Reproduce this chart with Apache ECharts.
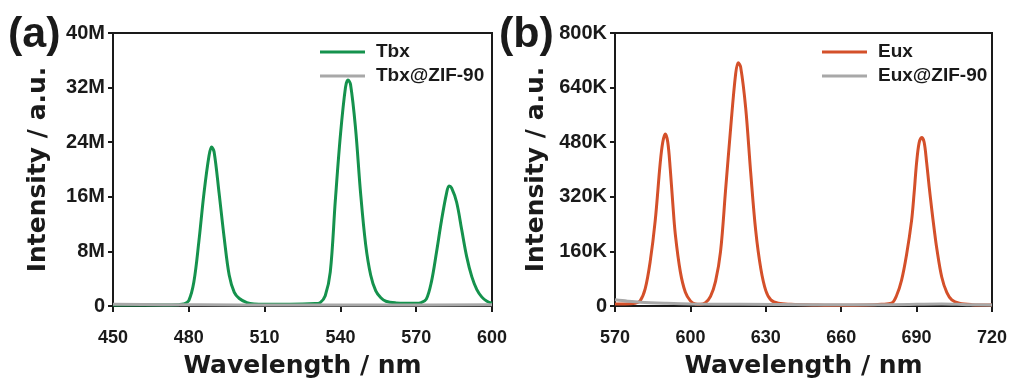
<!DOCTYPE html>
<html>
<head>
<meta charset="utf-8">
<script src="https://cdn.jsdelivr.net/npm/echarts@6/dist/echarts.min.js"></script>
<style>
  html, body { margin: 0; padding: 0; background: #fff; }
  #chart { width: 1014px; height: 385px; }
</style>
</head>
<body>
<div id="chart"></div>
<script>
// panel (a): Tbx, intensity in M
const tbxWl = [450, 460, 470, 476, 478, 480, 482, 484, 486, 488, 489, 490, 492, 494, 496, 498, 500, 503, 506, 510, 520, 530, 532, 534, 536, 538, 540, 542, 543, 544, 546, 548, 550, 552, 554, 556, 558, 562, 566, 570, 572, 574, 576, 578, 580, 582, 583, 584, 586, 588, 590, 592, 594, 596, 598, 600];
const tbxInt = [0.15, 0.15, 0.15, 0.2, 0.3, 0.8, 3.5, 9.5, 16.5, 22, 23.3, 22.6, 16.5, 10, 4.5, 2.0, 1.1, 0.5, 0.3, 0.25, 0.25, 0.35, 0.5, 1.5, 5, 15.5, 25, 32, 33.1, 32.5, 26, 16.5, 9, 4.5, 2.2, 1.2, 0.7, 0.45, 0.4, 0.4, 0.5, 1.0, 3.5, 7.8, 12.5, 16.5, 17.6, 17.3, 15.2, 11.2, 7.2, 4.3, 2.4, 1.3, 0.7, 0.4];
const tbxZifWl = [450, 470, 500, 530, 560, 600];
const tbxZifInt = [0.25, 0.2, 0.15, 0.15, 0.15, 0.2];

// panel (b): Eux, intensity in K
const euxWl = [570, 574, 578, 580, 582, 584, 586, 588, 589, 590, 591, 592, 593, 594, 596, 598, 600, 602, 604, 606, 608, 610, 612, 614, 616, 618, 619, 620, 622, 624, 626, 628, 630, 632, 635, 640, 650, 660, 670, 676, 680, 682, 684, 686, 688, 689, 690, 691, 692, 693, 694, 695, 696, 697, 698, 700, 702, 704, 707, 712, 720];
const euxInt = [6, 6, 8, 15, 50, 130, 250, 420, 480, 504, 480, 400, 300, 210, 100, 40, 15, 6, 5, 10, 28, 72, 160, 340, 520, 680, 713, 700, 580, 390, 220, 110, 45, 18, 8, 5, 3, 2, 3, 5, 8, 30, 75, 150, 250, 330, 420, 478, 494, 480, 420, 350, 285, 225, 170, 85, 40, 18, 8, 4, 3];
const euxZifWl = [570, 575, 580, 590, 600, 620, 650, 680, 700, 710, 720];
const euxZifInt = [18, 14, 11, 8, 6, 5, 4, 4, 6, 4, 3];

const xTicksA = { min: 450, max: 600, step: 30 };
const xTicksB = { min: 570, max: 720, step: 30 };
const yTicksA = { min: 0, max: 40, step: 8, unit: 'M' };
const yTicksB = { min: 0, max: 800, step: 160, unit: 'K' };

function zip(xs, ys) {
  return xs.map((x, i) => [x, ys[i]]);
}

const ink = '#1a1a1a';
const tickFont = { color: ink, fontSize: 18, fontWeight: 'bold', fontFamily: 'Liberation Sans, Arial, sans-serif' };
const titleFont = { color: ink, fontSize: 25, fontWeight: 'bold', fontFamily: 'DejaVu Sans, sans-serif' };

function xAxisOf(gridIndex, t) {
  return {
    type: 'value', gridIndex: gridIndex,
    min: t.min, max: t.max, interval: t.step,
    name: 'Wavelength / nm', nameLocation: 'middle', nameGap: 48,
    nameTextStyle: titleFont,
    axisLine: { lineStyle: { color: ink, width: 2 } },
    axisTick: { inside: false, length: 6, lineStyle: { color: ink, width: 2 } },
    axisLabel: Object.assign({ margin: 23 }, tickFont),
    splitLine: { show: false }
  };
}

function yAxisOf(gridIndex, t, gap) {
  return {
    type: 'value', gridIndex: gridIndex,
    min: t.min, max: t.max, interval: t.step,
    name: 'Intensity / a.u.', nameLocation: 'middle', nameGap: gap,
    nameTextStyle: titleFont,
    axisLine: { show: true, lineStyle: { color: ink, width: 2 } },
    axisTick: { show: true, inside: false, length: 5, lineStyle: { color: ink, width: 2 } },
    axisLabel: Object.assign({}, tickFont, {
      fontSize: 20,
      margin: 8,
      formatter: v => (v === 0 ? '0' : v + t.unit)
    }),
    splitLine: { show: false }
  };
}

function lineOf(name, idx, data, color) {
  return {
    name: name, type: 'line', xAxisIndex: idx, yAxisIndex: idx,
    data: data, symbol: 'none', smooth: 0.35,
    lineStyle: { color: color, width: 3 }, itemStyle: { color: color },
    silent: true, animation: false
  };
}

function legendOf(names, left) {
  return {
    data: names, orient: 'vertical', left: left, top: 37,
    icon: 'rect', itemWidth: 45, itemHeight: 3, itemGap: 4,
    textStyle: Object.assign({ lineHeight: 20, padding: [0, 0, 0, 6] }, tickFont, { fontSize: 19 }),
    selectedMode: false
  };
}

const chart = echarts.init(document.getElementById('chart'));
chart.setOption({
  backgroundColor: '#fff',
  animation: false,
  grid: [
    { left: 113, top: 33, width: 379, height: 273, show: true, borderColor: ink, borderWidth: 2, backgroundColor: 'transparent' },
    { left: 615, top: 33, width: 377, height: 273, show: true, borderColor: ink, borderWidth: 2, backgroundColor: 'transparent' }
  ],
  xAxis: [xAxisOf(0, xTicksA), xAxisOf(1, xTicksB)],
  yAxis: [yAxisOf(0, yTicksA, 62), yAxisOf(1, yTicksB, 66)],
  legend: [
    legendOf(['Tbx', 'Tbx@ZIF-90'], 315),
    legendOf(['Eux', 'Eux@ZIF-90'], 817)
  ],
  graphic: [
    { type: 'text', left: 8, top: 14, style: { text: '(a)', fill: ink, font: 'bold 43px Liberation Sans, Arial, sans-serif' } },
    { type: 'text', left: 499, top: 14, style: { text: '(b)', fill: ink, font: 'bold 43px Liberation Sans, Arial, sans-serif' } }
  ],
  series: [
    lineOf('Tbx', 0, zip(tbxWl, tbxInt), '#15924d'),
    lineOf('Tbx@ZIF-90', 0, zip(tbxZifWl, tbxZifInt), '#a8a8a8'),
    lineOf('Eux', 1, zip(euxWl, euxInt), '#d4502a'),
    lineOf('Eux@ZIF-90', 1, zip(euxZifWl, euxZifInt), '#a8a8a8')
  ]
});
</script>
</body>
</html>
